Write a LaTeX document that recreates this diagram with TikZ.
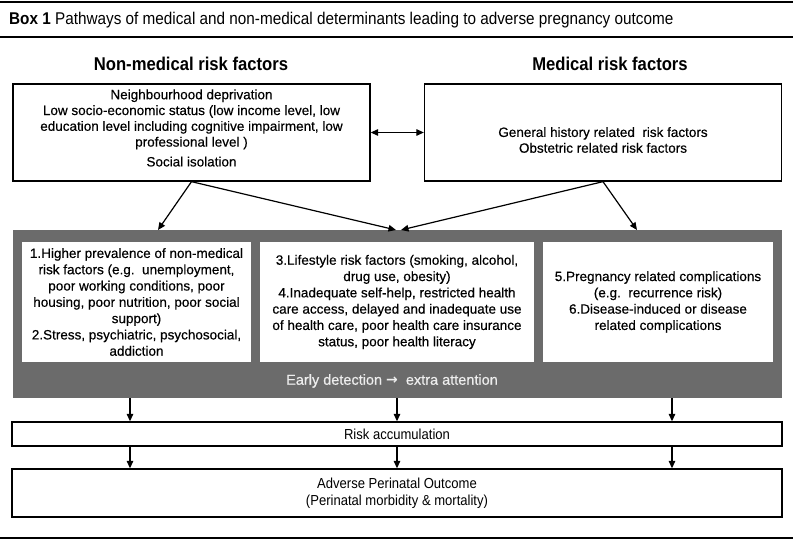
\documentclass[tikz,border=0pt]{standalone}
\usepackage{fontspec}
\setmainfont[FakeBold=0.4]{Liberation Sans}
\newfontfamily\condfont[FakeStretch=0.9]{Liberation Sans}
\newfontfamily\arrowfont{DejaVu Sans}
\usepackage{tikz}
\usetikzlibrary{arrows.meta,positioning}
\definecolor{panelgray}{HTML}{6B6B6B}
\definecolor{panelfg}{HTML}{EEEEEE}
\tikzset{
  rule/.style={line width=1.8pt},
  boxtitle/.style={font=\condfont\fontsize{17}{20}\selectfont, inner sep=0pt},
  head/.style={font=\condfont\bfseries\fontsize{18.5}{22}\selectfont, inner sep=0pt},
  topbox/.style={draw=black, line width=1.3pt, minimum width=357pt, minimum height=97pt, inner sep=0pt},
  boxtext/.style={align=center, inner sep=0pt, font=\fontsize{13.5}{15.8}\selectfont},
  panel/.style={fill=panelgray, minimum width=769pt, minimum height=168pt, inner sep=0pt},
  factor/.style={fill=white, minimum height=120pt, align=center, inner sep=0pt,
                 font=\fontsize{13.5}{16.3}\selectfont},
  early/.style={font=\fontsize{14.5}{17}\selectfont\color{panelfg}, inner sep=0pt},
  bar/.style={draw=black, line width=1.3pt, minimum width=770pt, align=center, inner sep=0pt,
              font=\condfont\fontsize{14.5}{16.5}\selectfont},
  flow/.style={->, >={Triangle[length=7.5pt,width=6.5pt]}, line width=1.2pt}
}

\begin{document}
\begin{tikzpicture}[x=1pt,y=-1pt]
  \useasboundingbox (0,0) rectangle (796,540);

  % header
  \draw[rule] (0,2) -- (793,2);
  \node[boxtitle, anchor=west] (title) at (9,20)
    {\textbf{Box 1} Pathways of medical and non-medical determinants leading to adverse pregnancy outcome};
  \draw[rule] (0,37) -- (793,37);
  \node[head] (nmhead) at (191,64) {Non-medical risk factors};
  \node[head] (mhead) at (610,64) {Medical risk factors};

  % risk factor boxes
  \node[topbox] (nonmed) at (191.5,132.5) {};
  \node[boxtext] (nonmedtxt) at (191.5,128) {Neighbourhood deprivation\\
    Low socio-economic status (low income level, low\\
    education level including cognitive impairment, low\\
    professional level )\\[4pt]
    Social isolation};
  \node[topbox] (med) at (603,132.5) {};
  \node[boxtext] (medtxt) at (603,140) {General history related\ \ risk factors\\
    Obstetric related risk factors};
  \draw[flow,<->] (nonmed) -- (med);

  % grey panel
  \node[panel] (panel) at (397.5,314) {};
  \node[factor, minimum width=229pt] (nmfac) at (136.5,302) {1.Higher prevalence of non-medical\\
    risk factors (e.g.\ \ unemployment,\\
    poor working conditions, poor\\
    housing, poor nutrition, poor social\\
    support)\\
    2.Stress, psychiatric, psychosocial,\\
    addiction};
  \node[factor, minimum width=274pt] (life) at (397,302) {3.Lifestyle risk factors (smoking, alcohol,\\
    drug use, obesity)\\
    4.Inadequate self-help, restricted health\\
    care access, delayed and inadequate use\\
    of health care, poor health care insurance\\
    status, poor health literacy};
  \node[factor, minimum width=230pt] (preg) at (658,302) {5.Pregnancy related complications\\
    (e.g.\ \ recurrence risk)\\
    6.Disease-induced or disease\\
    related complications};
  \node[early] (early) at (392,381) {Early detection {\arrowfont\bfseries\fontsize{14}{16}\selectfont →}\ \ extra attention};

  \coordinate (p1) at (158,230);
  \coordinate (p2) at (396,230);
  \coordinate (p3) at (401,230);
  \coordinate (p4) at (637,230);
  \draw[flow] (nonmed.south) -- (p1);
  \draw[flow] (nonmed.south) -- (p2);
  \draw[flow] (med.south) -- (p3);
  \draw[flow] (med.south) -- (p4);

  % outcome
  \node[bar, minimum height=24pt] (risk) at (397,434) {Risk accumulation};
  \node[bar, minimum height=48pt] (outcome) at (397,493) {Adverse Perinatal Outcome\\
    (Perinatal morbidity \& mortality)};
  \foreach \x in {130,397,672} {
    \draw[flow] (panel.south -| \x,0) -- (risk.north -| \x,0);
    \draw[flow] (risk.south -| \x,0) -- (outcome.north -| \x,0);
  }

  \draw[rule] (0,538) -- (793,538);
\end{tikzpicture}
\end{document}
